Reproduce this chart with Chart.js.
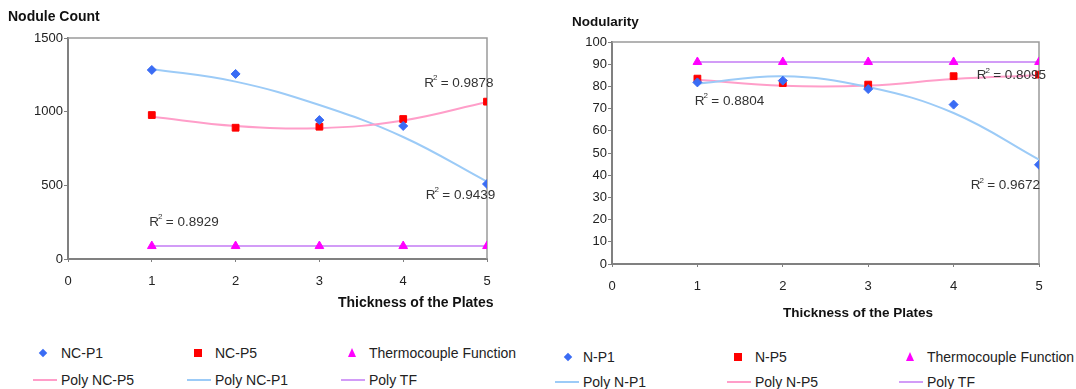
<!DOCTYPE html>
<html>
<head>
<meta charset="utf-8">
<script src="https://cdn.jsdelivr.net/npm/chart.js@4/dist/chart.umd.min.js"></script>
<style>
  body { margin: 0; background: #fff; width: 1076px; height: 389px; position: relative; overflow: hidden;
         font-family: "Liberation Sans", Arial, sans-serif; }
  .box { position: absolute; top: 0; height: 330px; }
  .leg { position: absolute; font-size: 14px; color: #222; white-space: nowrap; transform: translateY(-50%); }
  .sym { position: absolute; }
</style>
</head>
<body>
<div class="box" style="left:0;width:540px"><canvas id="countChart"></canvas></div>
<div class="box" style="left:540px;width:536px"><canvas id="nodularityChart"></canvas></div>
<div id="legends"></div>
<script>
// thickness of the plates (x)
const thickness = [1, 2, 3, 4, 5];
const xTicks = [0, 1, 2, 3, 4, 5];

// nodule count chart
const ncP1 = [1283, 1256, 943, 903, 509];
const ncP5 = [977, 891, 898, 950, 1068];
const tfCount = [88, 88, 88, 88, 88];
const polyNcP1 = [1290, 1204, 1045, 828, 525];
const polyNcP5 = [966, 903, 888, 940, 1066];
const polyTfCount = [88, 88, 88, 88, 88];
const countTicks = [0, 500, 1000, 1500];

// nodularity chart
const nP1 = [81.8, 82.6, 78.8, 71.8, 44.7];
const nP5 = [83.5, 81.5, 80.8, 84.6, 85.3];
const tfNod = [91, 91, 91, 91, 91];
const polyNP1 = [81.2, 84.6, 79.7, 68, 47];
const polyNP5 = [83, 80.3, 80.4, 83.3, 85];
const polyTfNod = [91, 91, 91, 91, 91];
const nodTicks = [0, 10, 20, 30, 40, 50, 60, 70, 80, 90, 100];

const BLUE = "#3a6cf4", RED = "#ff0000", MAGENTA = "#ff00ff";
const LBLUE = "#9ccbf7", PINK = "#ff9ec9", LILAC = "#d29cf7";

function pts(ys) {
  return thickness.map((x, i) => ({ x: x, y: ys[i] }));
}

function markers(label, ys, color, style, r) {
  return { label: label, data: pts(ys), showLine: false, pointStyle: style, pointRadius: r,
           pointBackgroundColor: color, pointBorderColor: color, borderColor: color, backgroundColor: color };
}
function trend(label, ys, color) {
  return { label: label, data: pts(ys), showLine: true, pointRadius: 0, borderColor: color,
           backgroundColor: color, borderWidth: 2, tension: 0.4 };
}

// draws the plot box, titles and R² notes
const extras = {
  id: "extras",
  beforeDatasetsDraw(chart) {
    const a = chart.chartArea, ctx = chart.ctx;
    ctx.save();
    ctx.strokeStyle = "#9a9a9a";
    ctx.lineWidth = 1.5;
    ctx.beginPath();
    ctx.moveTo(a.left, a.top);
    ctx.lineTo(a.right, a.top);
    ctx.lineTo(a.right, a.bottom);
    ctx.stroke();
    ctx.restore();
  },
  afterDraw(chart) {
    const o = chart.options.plugins.extras, ctx = chart.ctx;
    ctx.save();
    ctx.fillStyle = "#111";
    ctx.textBaseline = "middle";
    ctx.font = "bold " + o.titleSize + "px 'Liberation Sans', Arial, sans-serif";
    ctx.fillText(o.yTitle, o.yTitlePos[0], o.yTitlePos[1]);
    ctx.fillText(o.xTitle, o.xTitlePos[0], o.xTitlePos[1]);
    ctx.fillStyle = "#333";
    o.notes.forEach(n => {
      const px = chart.scales.x.getPixelForValue(n.x);
      const py = chart.scales.y.getPixelForValue(n.y);
      ctx.font = "13.5px 'Liberation Sans', Arial, sans-serif";
      ctx.fillText("R", px, py);
      const w = ctx.measureText("R").width;
      ctx.font = "8px 'Liberation Sans', Arial, sans-serif";
      ctx.fillText("2", px + w - 1, py - 5);
      ctx.font = "13.5px 'Liberation Sans', Arial, sans-serif";
      ctx.fillText(" = " + n.text, px + w + 3, py);
    });
    ctx.restore();
  }
};

function axis(ticks, min, max, size, isX) {
  return {
    type: "linear", min: min, max: max,
    afterBuildTicks: s => { s.ticks = ticks.map(v => ({ value: v })); },
    afterFit: s => { if (isX) s.height = size; else s.width = size; },
    grid: { drawOnChartArea: false, drawTicks: true, tickLength: isX ? 3 : 4, color: "#808080" },
    border: { display: true, color: "#808080", width: 2 },
    ticks: { color: "#222", padding: isX ? 12 : 1, maxRotation: 0,
             callback: v => String(v),
             font: { size: 13, family: "'Liberation Sans', Arial, sans-serif" } }
  };
}

function makeChart(id, datasets, opt) {
  return new Chart(document.getElementById(id).getContext("2d"), {
    type: "scatter",
    data: { datasets: datasets },
    options: {
      responsive: true,
      maintainAspectRatio: false,
      animation: false,
      layout: { padding: opt.padding },
      plugins: { legend: { display: false }, tooltip: { enabled: false }, extras: opt.extras },
      scales: {
        x: axis(xTicks, 0, 5, opt.xHeight, true),
        y: axis(opt.yTicks, opt.yMin, opt.yMax, opt.yWidth, false)
      }
    },
    plugins: [extras]
  });
}

const countChart = makeChart("countChart", [
  markers("NC-P1", ncP1, BLUE, "rectRot", 4.5),
  markers("NC-P5", ncP5, RED, "rect", 4.8),
  markers("Thermocouple Function", tfCount, MAGENTA, "triangle", 5),
  trend("Poly NC-P5", polyNcP5, PINK),
  trend("Poly NC-P1", polyNcP1, LBLUE),
  trend("Poly TF", polyTfCount, LILAC)
], {
  padding: { left: 0, top: 38, right: 53, bottom: 0 },
  xHeight: 71, yWidth: 68, yTicks: countTicks, yMin: 0, yMax: 1500,
  extras: {
    titleSize: 14,
    yTitle: "Nodule Count", yTitlePos: [8, 17],
    xTitle: "Thickness of the Plates", xTitlePos: [338, 303],
    notes: [
      { x: 4.25, y: 1195, text: "0.9878" },
      { x: 4.27, y: 434, text: "0.9439" },
      { x: 0.97, y: 251, text: "0.8929" }
    ]
  }
});

const nodularityChart = makeChart("nodularityChart", [
  markers("N-P1", nP1, BLUE, "rectRot", 4.5),
  markers("N-P5", nP5, RED, "rect", 4.8),
  markers("Thermocouple Function", tfNod, MAGENTA, "triangle", 5),
  trend("Poly N-P1", polyNP1, LBLUE),
  trend("Poly N-P5", polyNP5, PINK),
  trend("Poly TF", polyTfNod, LILAC)
], {
  padding: { left: 0, top: 42, right: 37, bottom: 0 },
  xHeight: 66, yWidth: 72, yTicks: nodTicks, yMin: 0, yMax: 100,
  extras: {
    titleSize: 13.5,
    yTitle: "Nodularity", yTitlePos: [32, 22],
    xTitle: "Thickness of the Plates", xTitlePos: [243, 313],
    notes: [
      { x: 0.97, y: 73.5, text: "0.8804" },
      { x: 4.2, y: 35.3, text: "0.9672" },
      { x: 4.27, y: 84.8, text: "0.8095" }
    ]
  }
});

// html legends, three columns and two rows under each chart
function symbolHtml(ds, cx, cy) {
  const c = ds.pointBackgroundColor;
  if (ds.showLine) {
    return `<div class="sym" style="left:${cx - 12}px;top:${cy - 1}px;width:24px;height:2px;background:${ds.borderColor}"></div>`;
  }
  if (ds.pointStyle === "rectRot") {
    return `<div class="sym" style="left:${cx - 3}px;top:${cy - 3}px;width:6px;height:6px;background:${c};transform:rotate(45deg)"></div>`;
  }
  if (ds.pointStyle === "rect") {
    return `<div class="sym" style="left:${cx - 4}px;top:${cy - 4}px;width:8px;height:8px;background:${c}"></div>`;
  }
  return `<div class="sym" style="left:${cx - 4}px;top:${cy - 5}px;width:0;height:0;border-left:4px solid transparent;border-right:4px solid transparent;border-bottom:9px solid ${c}"></div>`;
}

function buildLegend(chart, textX, rowY, symX) {
  const sets = chart.data.datasets;
  let html = "";
  sets.forEach((ds, i) => {
    const col = i % 3, row = Math.floor(i / 3);
    const y = rowY[row];
    const sx = ds.showLine ? textX[col] - 16 : symX[col];
    html += symbolHtml(ds, sx, y);
    html += `<div class="leg" style="left:${textX[col]}px;top:${y}px">${ds.label}</div>`;
  });
  return html;
}

document.getElementById("legends").innerHTML =
  buildLegend(countChart, [61, 215, 369], [353, 380], [43, 198, 352]) +
  buildLegend(nodularityChart, [583, 755, 927], [357, 382], [568, 738, 910]);
</script>
</body>
</html>
